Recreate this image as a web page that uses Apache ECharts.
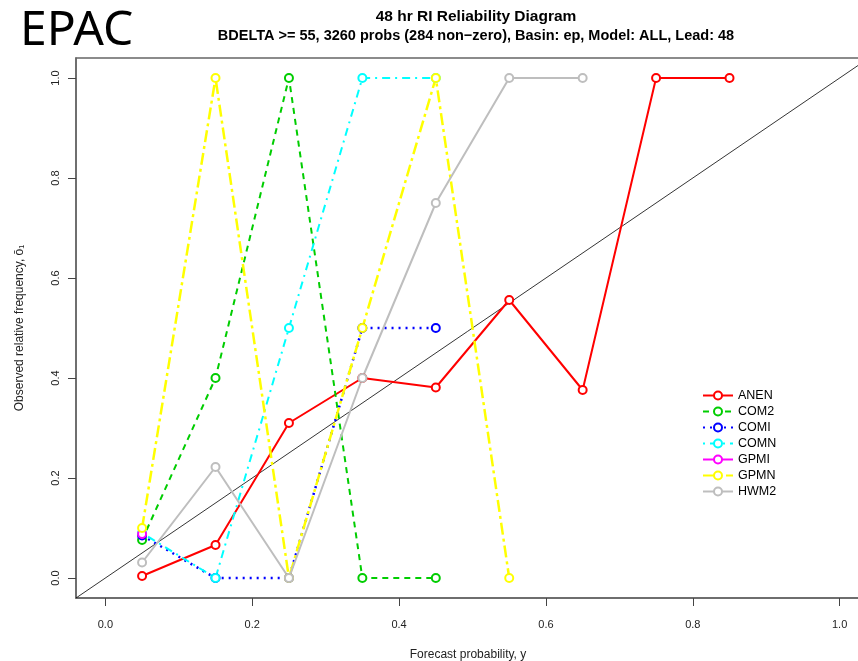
<!DOCTYPE html>
<html>
<head>
<meta charset="utf-8">
<script src="https://cdn.jsdelivr.net/npm/echarts@6/dist/echarts.min.js"></script>
<style>
  html, body { margin: 0; padding: 0; background: #fff; }
  #chart { width: 858px; height: 661px; }
</style>
</head>
<body>
<div id="chart"></div>
<script>
// Forecast probability bin centres
const bins = [0.05, 0.15, 0.25, 0.35, 0.45, 0.55, 0.65, 0.75, 0.85];

// Observed relative frequency per bin for each model (null = no forecasts in bin)
const anen = [0.004, 0.066, 0.31, 0.40, 0.381, 0.556, 0.376, 1.0, 1.0];
const com2 = [0.076, 0.40, 1.0, 0.0, 0.0, null, null, null, null];
const comi = [0.085, 0.0, 0.0, 0.5, 0.5, null, null, null, null];
const comn = [0.09, 0.0, 0.5, 1.0, 1.0, null, null, null, null];
const gpmi = [0.088, null, null, null, null, null, null, null, null];
const gpmn = [0.10, 1.0, 0.0, 0.5, 1.0, 0.0, null, null, null];
const hwm2 = [0.031, 0.222, 0.0, 0.40, 0.75, 1.0, 1.0, null, null];

// Axis tick values
const ticks = [0.0, 0.2, 0.4, 0.6, 0.8, 1.0];

const pairs = vals => bins.map((b, i) => [b, vals[i]]).filter(p => p[1] !== null);

const fontFam = '"Liberation Sans", Arial, sans-serif';

function model(name, vals, color, type, width) {
  return {
    name: name,
    type: 'line',
    data: pairs(vals),
    symbol: 'emptyCircle',
    symbolSize: 8,
    showSymbol: true,
    lineStyle: { color: color, width: width, type: type },
    itemStyle: { color: color, borderColor: color, borderWidth: 2 },
    emphasis: { disabled: true },
    animation: false,
    z: 3
  };
}

const chart = echarts.init(document.getElementById('chart'), null, { renderer: 'canvas' });

const axisCommon = {
  type: 'value',
  min: -0.04,
  max: 1.04,
  splitLine: { show: false },
  axisLine: { show: true, onZero: false, lineStyle: { color: '#666', width: 1.5 } },
  axisTick: { show: true, inside: false, length: 8, customValues: ticks, lineStyle: { color: '#444', width: 1 } },
  axisLabel: {
    customValues: ticks,
    color: '#222',
    fontFamily: fontFam,
    fontSize: 11,
    formatter: v => v.toFixed(1)
  },
  nameLocation: 'middle',
  nameTextStyle: { color: '#222', fontFamily: fontFam, fontSize: 12 }
};

// Plot region runs past the right edge of the page: the x-range is cut at
// the page boundary so the scale stays the same as a full -0.04..1.04 box.
const plotLeft = 76, plotFullWidth = 791;
const plotWidth = 858 - plotLeft;
const xMaxVisible = -0.04 + 1.08 * plotWidth / plotFullWidth;

chart.setOption({
  backgroundColor: '#fff',
  animation: false,
  title: [
    {
      text: 'EPAC',
      left: 15,
      top: 2,
      textStyle: { fontFamily: '"Noto Sans", "Open Sans", sans-serif', fontWeight: 'normal', fontSize: 48, color: '#000' }
    },
    {
      text: '{a|48 hr RI Reliability Diagram}\n{b|BDELTA >= 55, 3260 probs (284 non\u2212zero), Basin: ep, Model: ALL, Lead: 48}',
      left: 471,
      top: 2,
      textAlign: 'center',
      textStyle: {
        rich: {
          a: { fontFamily: fontFam, fontWeight: 'bold', fontSize: 15.5, lineHeight: 19, color: '#000', align: 'center' },
          b: { fontFamily: fontFam, fontWeight: 'bold', fontSize: 14.5, lineHeight: 19, color: '#000', align: 'center' }
        }
      }
    }
  ],
  legend: {
    orient: 'vertical',
    left: 697,
    top: 384,
    itemWidth: 30,
    itemHeight: 10,
    itemGap: 3,
    textStyle: { fontFamily: fontFam, fontSize: 12.5, lineHeight: 12, color: '#000' },
    data: ['ANEN', 'COM2', 'COMI', 'COMN', 'GPMI', 'GPMN', 'HWM2']
  },
  grid: {
    left: plotLeft, top: 58, width: plotWidth + 2, height: 540,
    outerBoundsMode: 'none',
    containLabel: false,
    show: true, borderColor: '#666', borderWidth: 1.5
  },
  xAxis: Object.assign({}, axisCommon, {
    max: xMaxVisible,
    name: 'Forecast probability, y',
    nameGap: 51,
    axisLabel: Object.assign({}, axisCommon.axisLabel, { margin: 21 })
  }),
  yAxis: Object.assign({}, axisCommon, {
    name: 'Observed relative frequency, \u014D\u2081',
    nameGap: 50,
    axisLabel: Object.assign({}, axisCommon.axisLabel, { rotate: 90, margin: 15 })
  }),
  series: [
    {
      name: 'diag',
      type: 'line',
      data: [[-0.04, -0.04], [xMaxVisible, xMaxVisible]],
      symbol: 'none',
      lineStyle: { color: '#000', width: 0.8 },
      emphasis: { disabled: true },
      silent: true,
      z: 2
    },
    model('ANEN', anen, '#ff0000', 'solid', 2),
    model('COM2', com2, '#00cd00', [6, 5], 2),
    model('COMI', comi, '#0000ff', [2, 5], 2.5),
    model('COMN', comn, '#00ffff', [2, 5, 8, 5], 2),
    model('GPMI', gpmi, '#ff00ff', 'solid', 2),
    model('GPMN', gpmn, '#ffff00', [12, 4, 3, 4], 2.5),
    model('HWM2', hwm2, '#bebebe', 'solid', 2)
  ]
});
</script>
</body>
</html>
